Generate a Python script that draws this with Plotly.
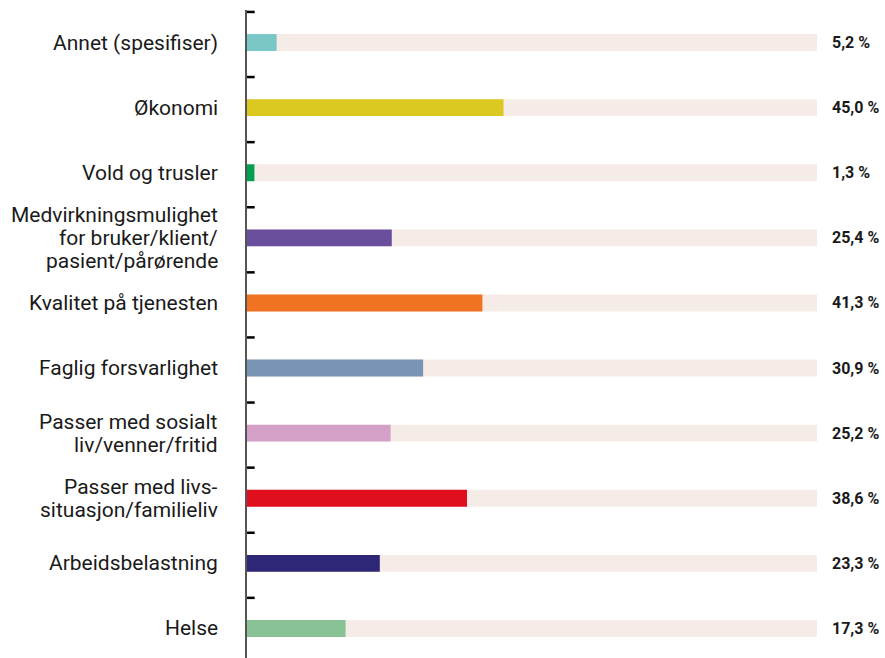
import plotly.graph_objects as go

categories = [
    "Annet (spesifiser)",
    "Økonomi",
    "Vold og trusler",
    "Medvirkningsmulighet<br>for bruker/klient/<br>pasient/pårørende",
    "Kvalitet på tjenesten",
    "Faglig forsvarlighet",
    "Passer med sosialt<br>liv/venner/fritid",
    "Passer med livs-<br>situasjon/familieliv",
    "Arbeidsbelastning",
    "Helse",
]
values = [5.2, 45.0, 1.3, 25.4, 41.3, 30.9, 25.2, 38.6, 23.3, 17.3]
colors = ["#79C8C7", "#DBC820", "#00A050", "#6A4E9E", "#F07321", "#7A94B4",
          "#D4A0C8", "#DF0F1E", "#2E2677", "#88C295"]
labels = [f"{v:.1f} %".replace(".", ",") for v in values]

ids = list(range(len(categories)))

fig = go.Figure()
fig.add_trace(go.Bar(
    y=ids, x=[100] * len(ids), orientation="h",
    marker=dict(color="#F5ECE8", line=dict(width=0)),
    width=0.26, hoverinfo="skip", showlegend=False,
))
fig.add_trace(go.Bar(
    y=ids, x=values, orientation="h",
    marker=dict(color=colors, line=dict(width=0)),
    width=0.26, showlegend=False,
))

for i, lab in zip(ids, labels):
    fig.add_annotation(
        x=1, xref="paper", y=i, yref="y", text=f"<b>{lab}</b>",
        showarrow=False, xanchor="left", xshift=13,
        font=dict(family="Roboto", size=16, color="#1a1a1a"),
    )

# category labels, one annotation per line for tighter line spacing
LINE = 22.7
for i, cat in zip(ids, categories):
    lines = cat.split("<br>")
    n = len(lines)
    for k, ln in enumerate(lines):
        fig.add_annotation(
            x=0, xref="paper", y=i, yref="y", text=ln,
            showarrow=False, xanchor="right", yanchor="middle",
            xshift=-27, yshift=((n - 1) / 2 - k) * LINE,
            font=dict(family="Roboto", size=21, color="#1a1a1a"),
        )

fig.update_layout(
    barmode="overlay",
    width=885, height=658,
    margin=dict(l=247, r=68, t=10, b=0),
    paper_bgcolor="white", plot_bgcolor="white",
    xaxis=dict(range=[0, 100], visible=False, fixedrange=True),
    yaxis=dict(
        tickmode="array", tickvals=ids, showticklabels=False,
        range=[9.454, -0.5],
        showline=True, linecolor="#555555", linewidth=2,
        showgrid=False, zeroline=False, ticks="",
    ),
)

# inside ticks at category boundaries
for b in range(len(ids)):
    fig.add_shape(type="line", xref="paper", yref="y",
                  x0=0, x1=0.0135, y0=b - 0.5 + 0.03, y1=b - 0.5 + 0.03,
                  line=dict(color="black", width=2.5))

fig.write_html("out.html")
